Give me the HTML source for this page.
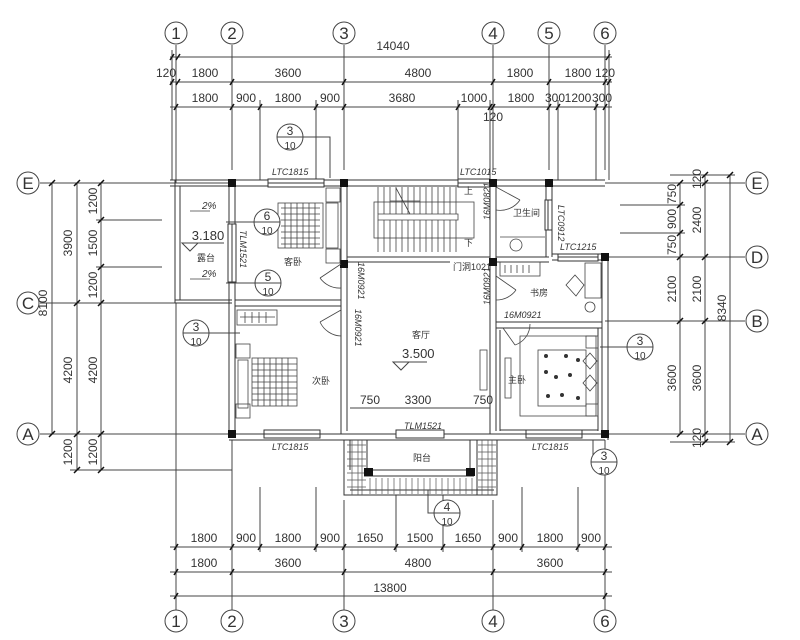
<!DOCTYPE html>
<html><head><meta charset="utf-8"><style>body{margin:0;background:#fff}svg{display:block}text{font-family:"Liberation Sans","Noto Sans CJK SC",sans-serif;fill:#333}</style></head><body>
<svg width="800" height="640" viewBox="0 0 800 640" xmlns="http://www.w3.org/2000/svg">
<g stroke="#444" stroke-width="1" fill="none">
<path d="M176 45V170 M232 45V170 M344 45V170 M493 45V170 M549 45V170 M605 45V170"/>
<path d="M176 480V610 M232 480V610 M344 500V610 M493 500V610 M605 480V610"/>
<path d="M176 170V183 M176 303V500 M232 440V530 M605 440V520"/>
<path d="M170 57H612 M170 82H612 M170 107H612"/>
<path d="M260 100V180 M316 100V180 M458 100V180 M490 100V180 M558 100V180 M596 100V180 M172 50V180 M609 50V180"/>
<path d="M170 547H612 M170 572H612 M170 596H612"/>
<path d="M260 487V552 M316 487V552 M396 495V552 M443 495V552 M522 487V552 M578 487V552"/>
<path d="M40 183H232 M40 303H176 M40 434H232 M70 470H232 M52 183V434 M77 183V470 M101 183V470 M96 220H162 M96 267H162"/>
<path d="M605 183H745 M605 257H745 M605 321H745 M605 434H745 M670 175H735 M670 442H735 M620 205H685 M620 233H685 M680 183V434 M705 175V442 M730 175V442"/>
</g>
<g stroke="#111" stroke-width="1.5">
<path d="M170 60l4-6M176 60l4-6M606 60l4-6M170 85l4-6M176 85l4-6M230 85l4-6M342 85l4-6M491 85l4-6M547 85l4-6M603 85l4-6M607 85l4-6"/>
<path d="M174 110l4-6M230 110l4-6M258 110l4-6M314 110l4-6M342 110l4-6M456 110l4-6M488 110l4-6M491 110l4-6M547 110l4-6M556 110l4-6M594 110l4-6M603 110l4-6"/>
<path d="M174 550l4-6M230 550l4-6M258 550l4-6M314 550l4-6M342 550l4-6M394 550l4-6M441 550l4-6M491 550l4-6M520 550l4-6M576 550l4-6M603 550l4-6M174 575l4-6M230 575l4-6M342 575l4-6M491 575l4-6M603 575l4-6M174 599l4-6M603 599l4-6"/>
<path d="M49 186l6-6M49 437l6-6M74 186l6-6M74 306l6-6M74 437l6-6M74 473l6-6M98 186l6-6M98 223l6-6M98 270l6-6M98 306l6-6M98 437l6-6M98 473l6-6"/>
<path d="M677 186l6-6M677 208l6-6M677 236l6-6M677 260l6-6M677 324l6-6M677 437l6-6M702 178l6-6M702 186l6-6M702 260l6-6M702 324l6-6M702 437l6-6M702 445l6-6M727 178l6-6M727 445l6-6"/>
</g>
<g fill="#fff" stroke="#444">
<circle cx="176" cy="33" r="11"/><circle cx="232" cy="33" r="11"/><circle cx="344" cy="33" r="11"/><circle cx="493" cy="33" r="11"/><circle cx="549" cy="33" r="11"/><circle cx="605" cy="33" r="11"/>
<circle cx="176" cy="621" r="11"/><circle cx="232" cy="621" r="11"/><circle cx="344" cy="621" r="11"/><circle cx="493" cy="621" r="11"/><circle cx="605" cy="621" r="11"/>
<circle cx="28" cy="183" r="11"/><circle cx="28" cy="303" r="11"/><circle cx="28" cy="434" r="11"/>
<circle cx="757" cy="183" r="11"/><circle cx="757" cy="257" r="11"/><circle cx="757" cy="321" r="11"/><circle cx="757" cy="434" r="11"/>
</g>
<g font-size="17" text-anchor="middle" style="font-family:'Liberation Serif',serif">
<text x="176" y="39">1</text><text x="232" y="39">2</text><text x="344" y="39">3</text><text x="493" y="39">4</text><text x="549" y="39">5</text><text x="605" y="39">6</text>
<text x="176" y="627">1</text><text x="232" y="627">2</text><text x="344" y="627">3</text><text x="493" y="627">4</text><text x="605" y="627">6</text>
<text x="28" y="189">E</text><text x="28" y="309">C</text><text x="28" y="440">A</text>
<text x="757" y="189">E</text><text x="757" y="263">D</text><text x="757" y="327">B</text><text x="757" y="440">A</text>
</g>
<g font-size="12" text-anchor="middle">
<text x="393" y="50">14040</text>
<text x="166" y="77">120</text><text x="205" y="77">1800</text><text x="288" y="77">3600</text><text x="418" y="77">4800</text><text x="520" y="77">1800</text><text x="578" y="77">1800</text><text x="605" y="77">120</text>
<text x="205" y="102">1800</text><text x="246" y="102">900</text><text x="288" y="102">1800</text><text x="330" y="102">900</text><text x="402" y="102">3680</text><text x="474" y="102">1000</text><text x="521" y="102">1800</text><text x="555" y="102">300</text><text x="578" y="102">1200</text><text x="602" y="102">300</text><text x="493" y="121">120</text>
<text x="204" y="542">1800</text><text x="246" y="542">900</text><text x="288" y="542">1800</text><text x="330" y="542">900</text><text x="370" y="542">1650</text><text x="420" y="542">1500</text><text x="468" y="542">1650</text><text x="508" y="542">900</text><text x="550" y="542">1800</text><text x="591" y="542">900</text>
<text x="204" y="567">1800</text><text x="288" y="567">3600</text><text x="418" y="567">4800</text><text x="550" y="567">3600</text>
<text x="390" y="592">13800</text>
<text x="370" y="404">750</text><text x="418" y="404">3300</text><text x="483" y="404">750</text>
</g>
<g font-size="12" text-anchor="middle">
<text transform="translate(72,243) rotate(-90)">3900</text><text transform="translate(72,370) rotate(-90)">4200</text><text transform="translate(72,452) rotate(-90)">1200</text><text transform="translate(47,303) rotate(-90)">8100</text>
<text transform="translate(97,201) rotate(-90)">1200</text><text transform="translate(97,243) rotate(-90)">1500</text><text transform="translate(97,285) rotate(-90)">1200</text><text transform="translate(97,370) rotate(-90)">4200</text><text transform="translate(97,452) rotate(-90)">1200</text>
<text transform="translate(676,194) rotate(-90)">750</text><text transform="translate(676,219) rotate(-90)">900</text><text transform="translate(676,245) rotate(-90)">750</text><text transform="translate(676,289) rotate(-90)">2100</text><text transform="translate(676,378) rotate(-90)">3600</text>
<text transform="translate(701,179) rotate(-90)">120</text><text transform="translate(701,220) rotate(-90)">2400</text><text transform="translate(701,289) rotate(-90)">2100</text><text transform="translate(701,378) rotate(-90)">3600</text><text transform="translate(701,438) rotate(-90)">120</text>
<text transform="translate(726,308) rotate(-90)">8340</text>
</g>
<g stroke="#333" stroke-width="1" fill="none">
<path d="M170 180H605 M170 186H605 M175 180V303 M180 186V300 M175 300H232 M175 303H232"/>
<path d="M229 183V434 M235 186V431 M229 434H605 M229 440H605"/>
<path d="M341 183V434 M347 186V431 M490 183V434 M496 186V431"/>
<path d="M235 300H341 M235 306H341 M347 257H490 M347 262H450"/>
<path d="M496 257H549 M496 262H549 M546 183V257 M552 186V257 M552 254H605 M552 260H605 M602 257V434 M608 257V440"/>
<path d="M496 322H602 M496 328H602 M500 330V431 M598 328V431 M500 430H598"/>
<path d="M344 440V495H497V440 M350 440V470 M367 440V470 M470 440V470 M477 440V495 M364 470H474 M364 476H474 M350 490H494"/>
</g>
<g stroke="#555" stroke-width="0.7">
<path d="M347 445H366 M347 452H366 M347 459H366 M347 466H366 M347 473H366 M347 480H366 M347 487H366 M478 445H496 M478 452H496 M478 459H496 M478 466H496 M478 473H496 M478 480H496 M478 487H496"/>
<path d="M352 440V495 M358 440V495 M362 440V495 M482 440V495 M488 440V495 M492 440V495"/>
<path d="M370 478V494 M376 478V494 M382 478V494 M388 478V494 M394 478V494 M400 478V494 M406 478V494 M412 478V494 M418 478V494 M424 478V494 M430 478V494 M436 478V494 M442 478V494 M448 478V494 M454 478V494 M460 478V494 M466 478V494 M472 478V494"/>
</g>
<g stroke="#333" fill="#fff">
<rect x="268" y="179" width="56" height="8"/><rect x="458" y="179" width="32" height="8"/><rect x="558" y="254" width="40" height="7"/><rect x="264" y="430" width="56" height="8"/><rect x="526" y="430" width="56" height="8"/><rect x="396" y="430" width="48" height="8"/><rect x="545" y="200" width="7" height="30"/><rect x="228" y="224" width="8" height="58"/>
</g>
<path d="M268 183H324M458 183H490M558 257H598M264 434H320M526 434H582M548 200V230M232 224V282" stroke="#333"/>
<g fill="#111">
<rect x="228" y="179" width="8" height="8"/><rect x="340" y="179" width="8" height="8"/><rect x="489" y="179" width="8" height="8"/><rect x="545" y="179" width="8" height="8"/><rect x="340" y="260" width="8" height="8"/><rect x="489" y="258" width="8" height="8"/><rect x="601" y="253" width="8" height="8"/><rect x="228" y="430" width="8" height="8"/><rect x="601" y="430" width="8" height="8"/><rect x="364" y="468" width="9" height="8"/><rect x="466" y="468" width="9" height="8"/>
</g>
<g stroke="#444" stroke-width="0.8" fill="none">
<rect x="374" y="202" width="100" height="36"/>
<path d="M378 214H458V220H378Z"/>
<path d="M378 187V214 M384 187V214 M390 187V214 M396 187V214 M402 187V214 M408 187V214 M414 187V214 M420 187V214 M426 187V214 M432 187V214 M438 187V214 M444 187V214 M450 187V214 M456 187V214 M378 220V252 M384 220V252 M390 220V252 M396 220V252 M402 220V252 M408 220V252 M414 220V252 M420 220V252 M426 220V252 M432 220V252 M438 220V252 M444 220V252 M450 220V252 M456 220V252"/>
<path d="M396 188L410 214 M390 201H420"/>
</g>
<g stroke="#444" stroke-width="0.8" fill="none">
<path d="M341 264L320 278M320 278A24 24 0 0 0 341 288"/>
<path d="M341 310L320 322M320 322A24 24 0 0 0 341 336"/>
<path d="M496 187L520 200M520 200A24 24 0 0 1 496 210"/>
<path d="M496 276L516 290M516 290A24 24 0 0 1 496 300"/>
<path d="M503 328L515 345M515 345A22 22 0 0 0 530 324"/>
</g>
<g stroke="#444" stroke-width="0.8" fill="none">
<rect x="278" y="203" width="45" height="45"/><path d="M281 208H320M281 214H320M281 220H320M281 226H320M281 232H320M281 238H320M281 244H320M285 203V248M291 203V248M297 203V248M303 203V248M309 203V248M315 203V248"/>
<rect x="326" y="203" width="12" height="45"/><rect x="326" y="188" width="14" height="14"/><rect x="326" y="249" width="14" height="14"/>
<rect x="238" y="360" width="10" height="48"/><rect x="252" y="358" width="45" height="48"/><path d="M252 364H297M252 370H297M252 376H297M252 382H297M252 388H297M252 394H297M252 400H297M258 358V406M264 358V406M270 358V406M276 358V406M282 358V406M288 358V406"/>
<rect x="236" y="344" width="14" height="14"/><rect x="236" y="404" width="14" height="14"/>
<rect x="237" y="310" width="40" height="15"/><path d="M240 317H275M245 312V323M252 312V323M259 312V323M266 312V323"/>
<rect x="500" y="262" width="40" height="14"/><path d="M505 265V273M511 265V273M517 265V273M523 265V273M529 265V273"/>
<rect x="585" y="263" width="16" height="35"/><path d="M566 285L575 275L584 285L576 296Z"/><circle cx="590" cy="307" r="5"/>
<circle cx="516" cy="245" r="6"/><path d="M500 237H545"/>
<rect x="520" y="336" width="76" height="80"/><rect x="538" y="350" width="48" height="56"/>
<path d="M590 353l7 8l-7 8l-7-8z M590 375l7 8l-7 8l-7-8z"/>
<rect x="586" y="336" width="12" height="12"/><rect x="586" y="404" width="12" height="12"/>
<rect x="480" y="350" width="7" height="40"/><rect x="505" y="358" width="6" height="40"/>
<path d="M190 211H210 M190 279H210"/>
</g>
<g fill="#333" stroke="none">
<circle cx="546" cy="356" r="2"/><circle cx="566" cy="356" r="2"/><circle cx="578" cy="360" r="2"/><circle cx="546" cy="372" r="2"/><circle cx="556" cy="377" r="2"/><circle cx="570" cy="375" r="2"/><circle cx="548" cy="396" r="2"/><circle cx="562" cy="395" r="2"/><circle cx="578" cy="398" r="2"/>
</g>
<g font-size="10">
<text x="202" y="209" font-style="italic">2%</text><text x="202" y="277" font-style="italic">2%</text>
<text x="208" y="240" font-size="13" text-anchor="middle">3.180</text><text x="197" y="261" font-size="9">露台</text>
<text x="284" y="265" font-size="9">客卧</text><text x="312" y="384" font-size="9">次卧</text>
<text x="412" y="338" font-size="9">客厅</text><text x="402" y="358" font-size="13">3.500</text>
<text x="513" y="216" font-size="9">卫生间</text><text x="530" y="296" font-size="9">书房</text><text x="508" y="383" font-size="9">主卧</text>
<text x="413" y="461" font-size="9">阳台</text>
<text x="272" y="175" font-style="italic" font-size="9">LTC1815</text><text x="460" y="175" font-style="italic" font-size="9">LTC1015</text>
<text x="560" y="250" font-style="italic" font-size="9">LTC1215</text>
<text x="272" y="450" font-style="italic" font-size="9">LTC1815</text><text x="532" y="450" font-style="italic" font-size="9">LTC1815</text>
<text x="404" y="429" font-style="italic" font-size="9">TLM1521</text>
<text x="453" y="270" font-size="9">门洞1021</text>
<text x="504" y="318" font-style="italic" font-size="9">16M0921</text>
<text x="464" y="194" font-size="9">上</text><text x="464" y="246" font-size="9">下</text>
</g>
<g font-size="9" font-style="italic">
<text transform="translate(240,230) rotate(90)">TLM1521</text>
<text transform="translate(358,262) rotate(90)">16M0921</text>
<text transform="translate(355,309) rotate(90)">16M0921</text>
<text transform="translate(490,220) rotate(-90)">16M0821</text>
<text transform="translate(490,305) rotate(-90)">16M0921</text>
<text transform="translate(558,205) rotate(90)">LTC0912</text>
</g>
<path d="M393 362l8 8l8-8zM393 362h34" stroke="#444" fill="none"/>
<path d="M182 243l8 8l8-8zM182 243h42" stroke="#444" fill="none"/>
<g stroke="#444" fill="#fff">
<path d="M290 137H330V178M226 222H254M226 283H255M196 333H240M640 347H600M604 462H593V440M447 513H428V490" fill="none"/>
<circle cx="290" cy="137" r="13"/><circle cx="267" cy="222" r="13"/><circle cx="268" cy="283" r="13"/><circle cx="196" cy="333" r="13"/><circle cx="640" cy="347" r="13"/><circle cx="604" cy="462" r="13"/><circle cx="447" cy="513" r="13"/>
<path d="M277 137H303M254 222H280M255 283H281M183 333H209M627 347H653M591 462H617M434 513H460" fill="none"/>
</g>
<g font-size="12" text-anchor="middle">
<text x="290" y="135">3</text><text x="290" y="149" font-size="10">10</text>
<text x="267" y="220">6</text><text x="267" y="234" font-size="10">10</text>
<text x="268" y="281">5</text><text x="268" y="295" font-size="10">10</text>
<text x="196" y="331">3</text><text x="196" y="345" font-size="10">10</text>
<text x="640" y="345">3</text><text x="640" y="359" font-size="10">10</text>
<text x="604" y="460">3</text><text x="604" y="474" font-size="10">10</text>
<text x="447" y="511">4</text><text x="447" y="525" font-size="10">10</text>
</g>
<path d="M350 408H490" stroke="#444"/>
</svg>
</body></html>
